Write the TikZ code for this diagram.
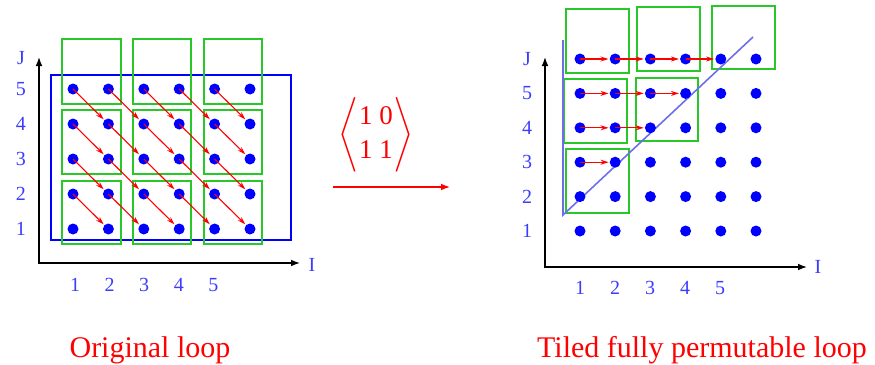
\documentclass[tikz,border=0pt]{standalone}
\usepackage{amsmath}
\usepackage{fontspec}
\setmainfont{Liberation Serif}
\usepackage{xcolor}
\usetikzlibrary{arrows.meta}
\definecolor{tilegreen}{RGB}{40,200,40}
\definecolor{hullblue}{RGB}{110,110,235}
\definecolor{lblblue}{RGB}{60,60,255}

\begin{document}
\begin{tikzpicture}[
  x=1pt,y=-1pt,
  >=Latex,
  dot/.style={circle,fill=blue,inner sep=0pt,minimum size=11pt},
  dep/.style={-{Stealth[length=8pt,width=5pt]},red,line width=1.1pt,shorten >=1pt},
  tile/.style={draw=tilegreen,line width=1.5pt},
  axis/.style={{Latex[length=9pt]}-{Latex[length=9pt]},line width=1.4pt},
  lbl/.style={text=lblblue,font=\fontsize{20}{22}\selectfont,inner sep=0pt},
  caption/.style={text=red,font=\fontsize{30}{34}\selectfont,anchor=base}
]
 \useasboundingbox (0,0) rectangle (875,364);

 % original loop
 \draw[blue,line width=1.5pt] (51,75) rectangle (291,240);
 \foreach \xa/\xb in {62/121,133/191,204/262}
   \foreach \ya/\yb in {39/104,110/174,181/244}
     \draw[tile] (\xa,\ya) rectangle (\xb,\yb);
 \foreach \i in {1,...,6}
   \foreach \j in {1,...,5}
     \node[dot] (a-\i-\j) at ({73+(\i-1)*35.4},{229-(\j-1)*35}) {};
 \foreach \i in {1,...,5}
   \foreach \j in {2,...,5} {
     \pgfmathtruncatemacro\ii{\i+1}
     \pgfmathtruncatemacro\jj{\j-1}
     \draw[dep] (a-\i-\j.center) -- (a-\ii-\jj);
   }
 \coordinate (a-ytip) at (39,57);
 \coordinate (a-xtip) at (300,263);
 \draw[axis] (a-ytip) |- (a-xtip);
 \node[lbl] (a-J) at (21,58) {J};
 \foreach \j in {1,...,5}
   \node[lbl] (a-lj-\j) at (21,{229-(\j-1)*35}) {\j};
 \node[lbl] (a-I) at (312,265) {I};
 \foreach \i in {1,...,5}
   \node[lbl] (a-li-\i) at ({75+(\i-1)*34.6},285) {\i};

 % transformation
 \node[text=red,font=\fontsize{27}{34}\selectfont] (mat) at (376,135)
   {$\left\langle\begin{matrix}\text{1}&\hspace{-3pt}\text{0}\\\text{1}&\hspace{-3pt}\text{1}\end{matrix}\right\rangle$};
 \coordinate (map-l) at (333,187);
 \coordinate (map-r) at (450,187);
 \draw[-{Latex[length=9pt]},red,line width=1.3pt] (map-l) -- (map-r);

 % tiled loop
 \draw[tile] (566,9) rectangle (629,73);
 \draw[tile] (637,7) rectangle (700,71);
 \draw[tile] (712,6) rectangle (775,69);
 \draw[tile] (564,79) rectangle (627,143);
 \draw[tile] (636,78) rectangle (698,141);
 \draw[tile] (566,149) rectangle (629,213);
 \draw[hullblue,line width=1.6pt] (563,40) -- (563,215) -- (753,37);
 \foreach \i in {1,...,6}
   \foreach \j in {1,...,6}
     \node[dot] (b-\i-\j) at ({580+(\i-1)*35.2},{231-(\j-1)*34.4}) {};
 \foreach \j in {3,...,6} {
   \pgfmathtruncatemacro\last{\j-2}
   \foreach \i in {1,...,\last} {
     \pgfmathtruncatemacro\ii{\i+1}
     \draw[dep] (b-\i-\j.center) -- (b-\ii-\j);
   }
 }
 \coordinate (b-ytip) at (545,57);
 \coordinate (b-xtip) at (807,267);
 \draw[axis] (b-ytip) |- (b-xtip);
 \node[lbl] (b-J) at (527,59) {J};
 \foreach \j in {1,...,5}
   \node[lbl] (b-lj-\j) at (527,{231-(\j-1)*34.4}) {\j};
 \node[lbl] (b-I) at (818,267) {I};
 \foreach \i in {1,...,5}
   \node[lbl] (b-li-\i) at ({580+(\i-1)*35},288) {\i};

 \node[caption] (cap-a) at (150,357) {Original loop};
 \node[caption] (cap-b) at (702,357) {Tiled fully permutable loop};
\end{tikzpicture}
\end{document}
